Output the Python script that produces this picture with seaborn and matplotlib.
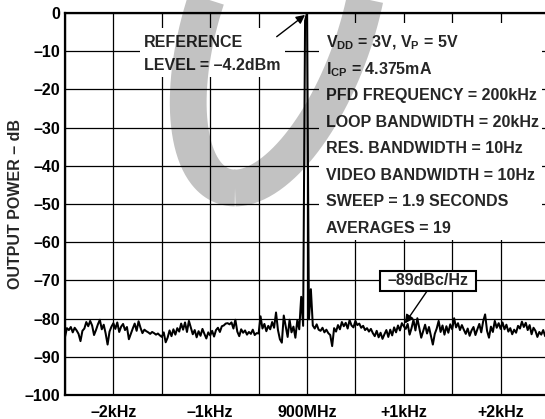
import numpy as np
import pandas as pd
import matplotlib
matplotlib.use("Agg")
import matplotlib.pyplot as plt
import matplotlib.transforms as mtransforms
from matplotlib.patches import Rectangle
from matplotlib.lines import Line2D
import seaborn as sns

# ---------------- data ----------------
span_start_khz = -2.5
span_stop_khz = 2.5
# measured output power, evenly spaced samples across the span (dB rel. carrier)
power_db = [
    # -2.50 .. -2.02 kHz
    -84.8, -82.5, -83.0, -82.2, -83.6, -82.4, -83.1, -84.0, -85.9, -83.2,
    -82.6, -80.9, -82.0, -80.6, -81.8, -84.3, -83.0, -81.5, -80.3, -82.8,
    -81.6, -83.9, -86.8, -83.4, -82.1,
    # -2.00 .. -1.52
    -81.2, -82.7, -81.0, -83.5, -82.1, -81.4, -83.0, -82.2, -85.4, -84.0,
    -82.6, -81.3, -83.2, -80.7, -82.4, -83.8, -82.9, -83.3, -83.6, -84.0,
    -83.5, -83.8, -84.2, -83.9, -84.4,
    # -1.50 .. -1.02
    -84.8, -83.6, -86.2, -85.0, -83.1, -84.6, -82.8, -84.2, -82.5, -83.4,
    -81.3, -82.9, -81.0, -83.5, -80.6, -82.3, -84.1, -83.0, -84.9, -83.3,
    -84.5, -82.7, -84.0, -85.2, -83.6,
    # -1.00 .. -0.52
    -84.4, -83.2, -84.7, -83.0, -82.4, -83.5, -82.0, -81.8, -81.3, -81.2,
    -81.5, -81.0, -82.6, -80.3, -83.4, -84.6, -82.8, -83.7, -83.1, -84.2,
    -83.5, -84.0, -82.9, -84.3, -83.8,
    # -0.50 .. 0.00 (carrier)
    -83.9, -79.4, -82.6, -81.4, -83.3, -81.9, -82.8, -80.9, -82.4, -78.4,
    -83.0, -85.4, -86.3, -79.2, -82.0, -84.8, -80.3, -83.6, -82.1, -85.0,
    -80.4, -82.8, -74.3, -81.9, -2.0, 0.0,
    # +0.02 .. +0.50
    -80.2, -72.3, -81.8, -82.6, -81.5, -82.9, -83.2, -82.4, -83.6, -82.9,
    -83.8, -84.3, -87.2, -82.5, -83.4, -81.7, -82.8, -80.9, -82.0, -81.1,
    -82.6, -80.4, -81.8, -82.3, -80.6,
    # +0.52 .. +1.00
    -81.7, -81.3, -82.4, -81.9, -83.0, -82.5, -83.4, -82.7, -83.8, -84.6,
    -83.2, -84.9, -83.7, -85.3, -84.1, -83.0, -84.8, -82.9, -84.4, -82.3,
    -83.6, -81.8, -83.1, -81.2, -82.0,
    # +1.02 .. +1.50
    -82.7, -81.4, -84.2, -82.5, -80.3, -83.1, -79.9, -82.4, -85.0, -83.3,
    -81.6, -83.9, -82.2, -84.5, -86.8, -84.0, -82.6, -80.6, -83.5, -81.8,
    -84.2, -82.0, -83.7, -81.5, -82.8,
    # +1.52 .. +2.00
    -79.9, -82.3, -81.2, -83.0, -81.7, -82.9, -84.0, -82.6, -84.5, -83.1,
    -82.2, -84.3, -82.8, -81.4, -83.6, -80.7, -78.9, -83.2, -85.0, -82.1,
    -83.5, -80.6, -82.4, -81.2, -82.7,
    # +2.02 .. +2.50
    -81.0, -82.8, -81.6, -83.4, -82.5, -84.1, -82.9, -83.7, -81.9, -82.6,
    -80.8, -82.2, -81.1, -83.0, -81.7, -84.1, -82.4, -83.2, -84.8, -83.5,
    -84.2, -83.0, -84.6, -83.8, -84.3,
]

xtick_values = [-2, -1, 0, 1, 2]
xtick_labels = ["\u20132kHz", "\u20131kHz", "900MHz", "+1kHz", "+2kHz"]
ytick_values = [0, -10, -20, -30, -40, -50, -60, -70, -80, -90, -100]
ytick_labels = ["0"] + ["\u2013%d" % (-v) for v in ytick_values[1:]]
y_label = "OUTPUT POWER \u2013 dB"

settings_lines = [
    "V$_{DD}$ = 3V, V$_{P}$ = 5V",
    "I$_{CP}$ = 4.375mA",
    "PFD FREQUENCY = 200kHz",
    "LOOP BANDWIDTH = 20kHz",
    "RES. BANDWIDTH = 10Hz",
    "VIDEO BANDWIDTH = 10Hz",
    "SWEEP = 1.9 SECONDS",
    "AVERAGES = 19",
]
reference_lines = ["REFERENCE", "LEVEL = \u20134.2dBm"]
noise_label = "\u201389dBc/Hz"

# ---------------- style ----------------
sns.set_theme(style="white")
plt.rcParams["font.family"] = ["Liberation Sans", "DejaVu Sans"]
plt.rcParams["font.weight"] = "bold"
plt.rcParams["mathtext.fontset"] = "custom"
plt.rcParams["mathtext.default"] = "regular"
plt.rcParams["mathtext.rm"] = "Liberation Sans:bold"
plt.rcParams["mathtext.bf"] = "Liberation Sans:bold"
plt.rcParams["axes.unicode_minus"] = False

FS = 11.5

fig = plt.figure(figsize=(5.45, 4.19), dpi=100)
fig.patch.set_facecolor("white")
ax = fig.add_axes([65 / 545, 1 - 395 / 419, 484 / 545, 382 / 419])
ax.set_facecolor("white")

freq = np.linspace(span_start_khz, span_stop_khz, len(power_db))
df = pd.DataFrame({"offset_khz": freq, "power_db": power_db})
sns.lineplot(data=df, x="offset_khz", y="power_db", ax=ax, color="black",
             linewidth=1.45, estimator=None, sort=False, zorder=3)

ax.set_xlim(span_start_khz, span_stop_khz)
ax.set_ylim(-100, 0)
ax.set_xticks(xtick_values)
ax.set_xticklabels(xtick_labels, fontsize=FS, fontweight="bold")
ax.set_xticks(np.arange(span_start_khz, span_stop_khz + 0.01, 0.5), minor=True)
ax.set_yticks(ytick_values)
ax.set_yticklabels(ytick_labels, fontsize=FS, fontweight="bold")
ax.tick_params(axis="both", which="both", length=0, colors="black")
ax.tick_params(axis="x", pad=7.0)
ax.tick_params(axis="y", pad=3.4)
ax.set_xlabel("")
ax.set_ylabel(y_label, fontsize=FS, fontweight="bold", va="center")
ax.yaxis.set_label_coords(-0.102, 0.5)

ax.set_axisbelow(True)
ax.grid(True, axis="x", which="both", color="black", linewidth=0.9)
ax.grid(True, axis="y", which="major", color="black", linewidth=0.9)
for side in ["top", "left", "bottom", "right"]:
    ax.spines[side].set_visible(True)
    ax.spines[side].set_color("black")
    ax.spines[side].set_linewidth(1.6)

# white areas behind the annotation text (hide the grid there)
ax.add_patch(Rectangle((0.124, -59.3), 2.425 - 0.124, 59.3 - 2.6,
                       facecolor="white", edgecolor="none", zorder=1))
ax.add_patch(Rectangle((-1.73, -16.7), 1.73 - 0.23, 16.7 - 4.0,
                       facecolor="white", edgecolor="none", zorder=1))

# settings text block
row_step = 6.94
for i, line in enumerate(settings_lines):
    ax.text(0.196, -7.5 - row_step * i - 1.5, line, fontsize=FS,
            fontweight="bold", ha="left", va="baseline", zorder=5)

# reference level text + arrow
ax.text(-1.686, -7.5 - 1.5, reference_lines[0], fontsize=FS,
        fontweight="bold", ha="left", va="baseline", zorder=5)
ax.text(-1.686, -13.4 - 1.5, reference_lines[1], fontsize=FS,
        fontweight="bold", ha="left", va="baseline", zorder=5)
ax.annotate("", xy=(-0.02, -0.5), xytext=(-0.313, -6.2),
            arrowprops=dict(arrowstyle="-|>", color="black", lw=1.0,
                            mutation_scale=13, shrinkA=0, shrinkB=0),
            zorder=5)

# noise floor label box + arrow
ax.add_patch(Rectangle((0.758, -72.7), 1.751 - 0.758, 5.2,
                       facecolor="white", edgecolor="black", linewidth=1.5,
                       zorder=4))
ax.text(1.255, -70.1, noise_label, fontsize=FS, fontweight="bold",
        ha="center", va="center", zorder=5)
ax.annotate("", xy=(1.01, -81.3), xytext=(1.24, -72.8),
            arrowprops=dict(arrowstyle="-|>", color="black", lw=1.0,
                            mutation_scale=13, shrinkA=0, shrinkB=0),
            zorder=5)

# faint "obsolete" watermark ring (multiply-like: black with low alpha)
t = np.linspace(0, 2 * np.pi, 400)
wm_x = 280 - 45 * np.cos(t) + 80 * np.sin(t)
wm_y = 20 + 168 * np.cos(t)
pix = mtransforms.Affine2D().scale(1, -1).translate(0, 419)
fig.add_artist(Line2D(wm_x, wm_y, transform=pix, color="black", alpha=0.24,
                      linewidth=26.5, solid_capstyle="butt", zorder=10))

fig.savefig("out.png", dpi=100, facecolor="white")
